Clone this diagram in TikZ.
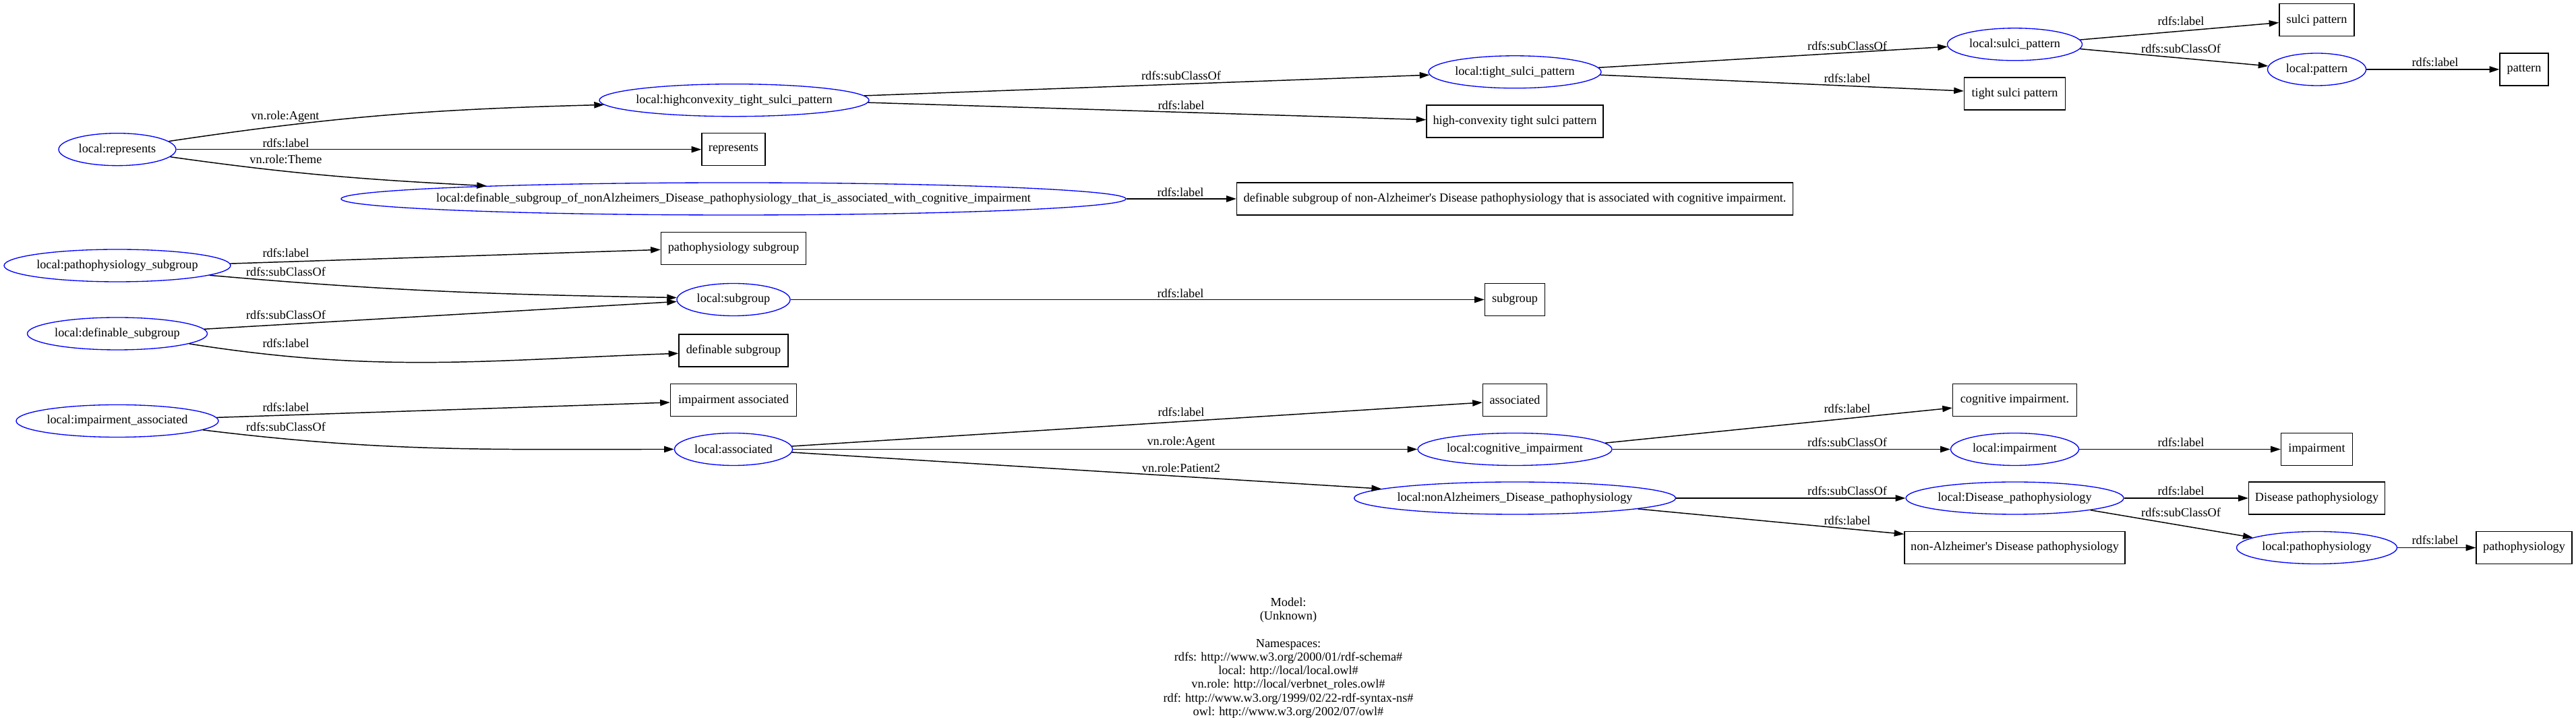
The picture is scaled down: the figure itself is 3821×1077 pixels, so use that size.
\documentclass[tikz,border=0pt]{standalone}
\usepackage{fontspec}
\setmainfont{Liberation Serif}[Ligatures=TeXOff]
\usetikzlibrary{arrows.meta,shapes.geometric}
\tikzset{
  txt/.style={font=\fontsize{13.7}{15.2}\selectfont},
  fixw/.style={inner sep=0pt, minimum height=36pt,
    execute at begin node={\hbox to 0pt\bgroup\hss},
    execute at end node={\hss\egroup}},
  nw/.style={minimum width=#1*0.75pt},
  cls/.style={ellipse, draw=blue, line width=1pt, txt, fixw},
  lit/.style={rectangle, draw=black, line width=1pt, txt, fixw},
  lbl/.style={txt, inner sep=0pt},
  edge/.style={draw=black, line width=1.1pt, -{Triangle[length=11pt,width=7pt]}}
}
\begin{document}
\begin{tikzpicture}[x=0.75pt,y=0.75pt]
\useasboundingbox (0,0) rectangle (3821,1077);
% class nodes
\node[cls,nw=174]  (rep)    at (174,855.3)  {local:represents};
\node[cls,nw=400]  (hc)     at (1089,928.3) {local:highconvexity\_tight\_sulci\_pattern};
\node[cls,nw=256]  (tsp)    at (2247,970.2) {local:tight\_sulci\_pattern};
\node[cls,nw=200]  (sp)     at (2988.5,1011.2) {local:sulci\_pattern};
\node[cls,nw=146]  (pat)    at (3436.5,974) {local:pattern};
\node[cls,nw=1164] (defsub) at (1088,782)   {local:definable\_subgroup\_of\_nonAlzheimers\_Disease\_pathophysiology\_that\_is\_associated\_with\_cognitive\_impairment};
\node[cls,nw=336]  (ps)     at (174,683)    {local:pathophysiology\_subgroup};
\node[cls,nw=168]  (sub)    at (1088,632.5) {local:subgroup};
\node[cls,nw=267]  (ds)     at (174,582)    {local:definable\_subgroup};
\node[cls,nw=300]  (ia)     at (174,452.5)  {local:impairment\_associated};
\node[cls,nw=175]  (assoc)  at (1088,410.5) {local:associated};
\node[cls,nw=288]  (ci)     at (2247,410.5) {local:cognitive\_impairment};
\node[cls,nw=477]  (nadp)   at (2247,338)   {local:nonAlzheimers\_Disease\_pathophysiology};
\node[cls,nw=190]  (imp)    at (2988.5,410.5) {local:impairment};
\node[cls,nw=323]  (dp)     at (2988.5,338) {local:Disease\_pathophysiology};
\node[cls,nw=238]  (pph)    at (3436.5,264.5) {local:pathophysiology};
% literal nodes
\node[lit,nw=94]   (repL)    at (1088,855.3)  {represents};
\node[lit,nw=262]  (hcL)     at (2247,897)    {high-convexity tight sulci pattern};
\node[lit,nw=150]  (tspL)    at (2988.5,938)  {tight sulci pattern};
\node[lit,nw=111]  (spL)     at (3436.5,1047.3) {sulci pattern};
\node[lit,nw=72]   (patL)    at (3744,974)    {pattern};
\node[lit,nw=825]  (defsubL) at (2247,782)    {definable subgroup of non-Alzheimer's Disease pathophysiology that is associated with cognitive impairment.};
\node[lit,nw=215]  (psL)     at (1088,708.5)  {pathophysiology subgroup};
\node[lit,nw=89]   (subL)    at (2247,632.5)  {subgroup};
\node[lit,nw=162]  (dsL)     at (1088,557)    {definable subgroup};
\node[lit,nw=187]  (iaL)     at (1088,483.3)  {impairment associated};
\node[lit,nw=95]   (assocL)  at (2247,483.3)  {associated};
\node[lit,nw=184]  (ciL)     at (2988.5,483.3) {cognitive impairment.};
\node[lit,nw=106]  (impL)    at (3436.5,410.5) {impairment};
\node[lit,nw=202]  (dpL)     at (3436.5,338)  {Disease pathophysiology};
\node[lit,nw=327]  (nadpL)   at (2988.5,264.5) {non-Alzheimer's Disease pathophysiology};
\node[lit,nw=142]  (pphL)    at (3744,264.5)  {pathophysiology};
% edges
\draw[edge] (rep.9) to[out=8.5,in=181.5] (hc.182.5);
\draw[edge] (rep) -- (repL);
\draw[edge] (rep.-8) to[out=-8,in=177] (defsub.177);
\draw[edge] (hc.2) -- (tsp.182.6);
\draw[edge] (hc.-1.5) -- (hcL.179);
\draw[edge] (tsp.3) -- (sp.182.4);
\draw[edge] (tsp.-2.7) -- (tspL.177.7);
\draw[edge] (sp.4.4) -- (spL.184.7);
\draw[edge] (sp.-4.9) -- (pat.176.7);
\draw[edge] (pat) -- (patL);
\draw[edge] (defsub) -- (defsubL);
\draw[edge] (ps.1.6) -- (psL.181.7);
\draw[edge] (ps.-6) to[out=-5,in=179] (sub.178.8);
\draw[edge] (ds.3) -- (sub.182.6);
\draw[edge] (ds.-8.4) to[out=-9,in=182] (dsL.183);
\draw[edge] (sub) -- (subL);
\draw[edge] (ia.2) -- (iaL.182.2);
\draw[edge] (ia.-6.3) to[out=-7,in=180] (assoc.180);
\draw[edge] (assoc.3.9) -- (assocL.184.5);
\draw[edge] (assoc) -- (ci);
\draw[edge] (assoc.-3.7) -- (nadp.176.4);
\draw[edge] (ci.4.8) -- (ciL.187.2);
\draw[edge] (ci) -- (imp);
\draw[edge] (imp) -- (impL);
\draw[edge] (nadp) -- (dp);
\draw[edge] (nadp.-5.5) -- (nadpL.173.9);
\draw[edge] (dp) -- (dpL);
\draw[edge] (dp.-9.1) -- (pph.171.6);
\draw[edge] (pph) -- (pphL);
% edge labels
\node[lbl] (l1)  at (423,904)    {vn.role:Agent};
\node[lbl] (l2)  at (424,865)    {rdfs:label};
\node[lbl] (l3)  at (424,841)    {vn.role:Theme};
\node[lbl] (l4)  at (1752,964.3) {rdfs:subClassOf};
\node[lbl] (l5)  at (1752,921)   {rdfs:label};
\node[lbl] (l6)  at (2740,1008.7) {rdfs:subClassOf};
\node[lbl] (l7)  at (2740,960.3) {rdfs:label};
\node[lbl] (l8)  at (3235,1045.3) {rdfs:label};
\node[lbl] (l9)  at (3235,1004.3) {rdfs:subClassOf};
\node[lbl] (l10) at (3612,984.3) {rdfs:label};
\node[lbl] (l11) at (1751,792)   {rdfs:label};
\node[lbl] (l12) at (424,701.3)  {rdfs:label};
\node[lbl] (l13) at (424,673.7)  {rdfs:subClassOf};
\node[lbl] (l14) at (424,609.7)  {rdfs:subClassOf};
\node[lbl] (l15) at (424,568)    {rdfs:label};
\node[lbl] (l29) at (1751,642)   {rdfs:label};
\node[lbl] (l16) at (424,473)    {rdfs:label};
\node[lbl] (l17) at (424,443.7)  {rdfs:subClassOf};
\node[lbl] (l18) at (1752,465.3) {rdfs:label};
\node[lbl] (l19) at (1752,421)   {vn.role:Agent};
\node[lbl] (l20) at (1752,383)   {vn.role:Patient2};
\node[lbl] (l21) at (2740,470.3) {rdfs:label};
\node[lbl] (l22) at (2740,420.3) {rdfs:subClassOf};
\node[lbl] (l23) at (3235,421)   {rdfs:label};
\node[lbl] (l24) at (2740,348.7) {rdfs:subClassOf};
\node[lbl] (l25) at (2740,304.7) {rdfs:label};
\node[lbl] (l26) at (3235,348.7) {rdfs:label};
\node[lbl] (l27) at (3235,316.3) {rdfs:subClassOf};
\node[lbl] (l28) at (3612,275.3) {rdfs:label};
% footer
\node[lbl, align=center] (foot) at (1911,101) {Model:\\(Unknown)\\[15.2pt]Namespaces:\\rdfs: http://www.w3.org/2000/01/rdf-schema\#\\local: http://local/local.owl\#\\vn.role: http://local/verbnet\_roles.owl\#\\rdf: http://www.w3.org/1999/02/22-rdf-syntax-ns\#\\owl: http://www.w3.org/2002/07/owl\#};
\end{tikzpicture}
\end{document}
